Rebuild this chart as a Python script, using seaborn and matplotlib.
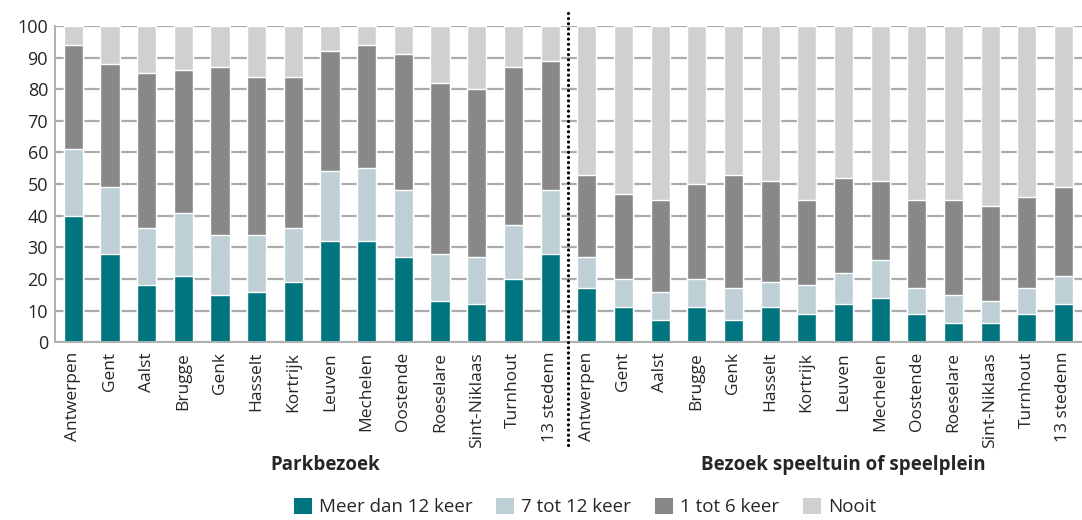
import matplotlib.pyplot as plt
import seaborn as sns
import numpy as np
import pandas as pd
from matplotlib.patches import Patch

# Data
cities = ["Antwerpen", "Gent", "Aalst", "Brugge", "Genk", "Hasselt", "Kortrijk",
          "Leuven", "Mechelen", "Oostende", "Roeselare", "Sint-Niklaas", "Turnhout",
          "13 stedenn"]
groups = ["Parkbezoek", "Bezoek speeltuin of speelplein"]
categories = ["Meer dan 12 keer", "7 tot 12 keer", "1 tot 6 keer", "Nooit"]

park_meer = [40, 28, 18, 21, 15, 16, 19, 32, 32, 27, 13, 12, 20, 28]
park_7_12 = [21, 21, 18, 20, 19, 18, 17, 22, 23, 21, 15, 15, 17, 20]
park_1_6 = [33, 39, 49, 45, 53, 50, 48, 38, 39, 43, 54, 53, 50, 41]

speel_meer = [17, 11, 7, 11, 7, 11, 9, 12, 14, 9, 6, 6, 9, 12]
speel_7_12 = [10, 9, 9, 9, 10, 8, 9, 10, 12, 8, 9, 7, 8, 9]
speel_1_6 = [26, 27, 29, 30, 36, 32, 27, 30, 25, 28, 30, 30, 29, 28]

colors = ["#00757F", "#BED0D6", "#888888", "#D0D0D0"]

# Build table
meer = np.array(park_meer + speel_meer)
mid = np.array(park_7_12 + speel_7_12)
low = np.array(park_1_6 + speel_1_6)
nooit = 100 - meer - mid - low
df = pd.DataFrame({
    "pos": np.arange(len(meer)),
    "c1": meer,
    "c2": meer + mid,
    "c3": meer + mid + low,
    "c4": meer + mid + low + nooit,
})

sns.set_style("white")
plt.rcParams["font.family"] = ["Open Sans", "DejaVu Sans"]

fig = plt.figure(figsize=(10.82, 5.2), dpi=100)
ax = fig.add_axes([0.0508, 0.342, 0.949, 0.608])

# stacked bars: draw cumulative totals from tallest to shortest
for col, c in zip(["c4", "c3", "c2", "c1"], colors[::-1]):
    sns.barplot(data=df, x="pos", y=col, color=c, width=0.52,
                saturation=1, ax=ax, zorder=2)

ax.set_xlim(-0.5, len(meer) - 0.5)
ax.set_ylim(0, 100)
ax.set_yticks(range(0, 101, 10))
ax.yaxis.grid(True, color="#ABABAB", linewidth=1.6, zorder=0)
ax.set_axisbelow(True)
ax.set_xticks(range(len(meer)))
ax.set_xticklabels(cities + cities, rotation=90, fontsize=12.5)
ax.tick_params(axis="x", length=0, pad=7)
ax.tick_params(axis="y", length=0, pad=5, labelsize=13)
ax.set_xticks(np.arange(0.5, len(meer) - 0.5, 1), minor=True)
ax.tick_params(axis="x", which="minor", direction="in", length=5,
               color="#B0B0B0", width=1.2)
ax.set_xlabel("")
ax.set_ylabel("")

for s in ["top", "right"]:
    ax.spines[s].set_visible(False)
for s in ["left", "bottom"]:
    ax.spines[s].set_color("#B0B0B0")
    ax.spines[s].set_linewidth(1.4)

# separator between the two groups
ax.plot([13.5, 13.5], [-32.5, 104.5], color="black", linewidth=2.3,
        linestyle=(0, (0.01, 1.6)), dash_capstyle="round", clip_on=False, zorder=5)

# group labels
fig.text(325 / 1082, 1 - 465 / 520, groups[0], ha="center", va="center",
         fontsize=13.5, fontweight="bold")
fig.text(843 / 1082, 1 - 465 / 520, groups[1], ha="center", va="center",
         fontsize=13.5, fontweight="bold")

handles = [Patch(facecolor=c, edgecolor="none") for c in colors]
fig.legend(handles, categories, loc="center", bbox_to_anchor=(585 / 1082, 1 - 507 / 520),
           ncol=4, frameon=False, fontsize=13.5, handlelength=0.96, handleheight=0.92,
           handletextpad=0.37, columnspacing=1.28, borderpad=0.2)

fig.savefig("out.png", dpi=100)
